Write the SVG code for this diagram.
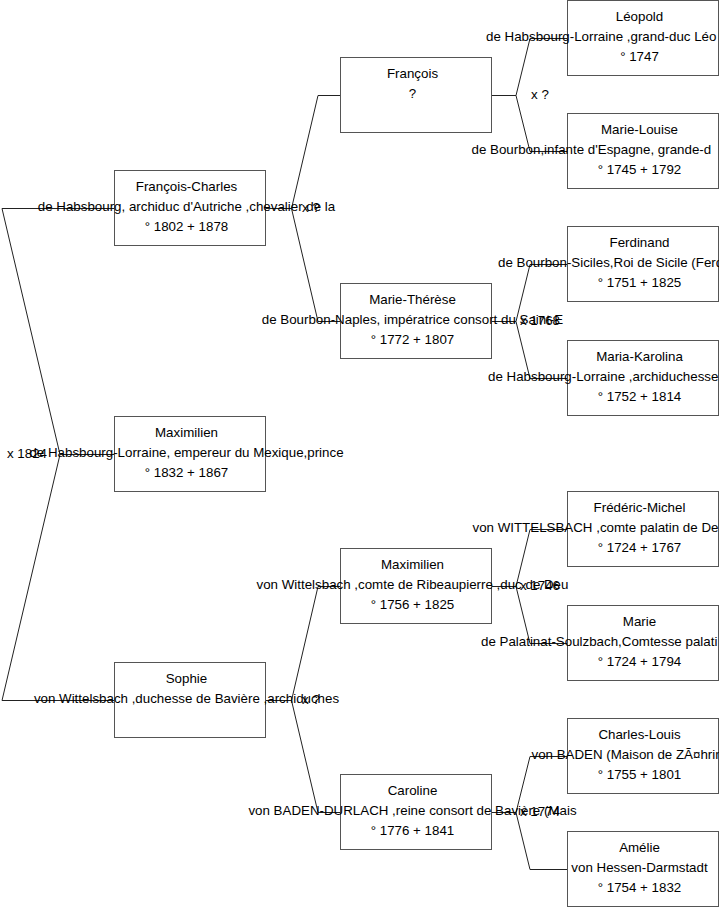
<svg xmlns="http://www.w3.org/2000/svg" width="719" height="908" viewBox="0 0 719 908">
<style>
.bg{fill:#ffffff}
.box{fill:#ffffff;stroke:#555555;stroke-width:1}
.ln{fill:none;stroke:#222222;stroke-width:1}
text{font-family:"Liberation Sans",Arial,sans-serif;font-size:13.33px;fill:#000000}
.c{text-anchor:middle}
.s{text-anchor:start}
</style>
<rect class="bg" x="0" y="0" width="719" height="908"/>
<g id="connectors">
<path class="ln" d="M2,208.5 H114.5 M2,700.5 H114.5 M2,208.5 L60,454.5 L2,700.5 M60,454.5 H114.5"/>
<path class="ln" d="M265.5,208.5 H291.5 L318,95.5 H340.5 M291.5,208.5 L318,321.5 H340.5"/>
<path class="ln" d="M265.5,700.5 H291.5 L318,586.5 H340.5 M291.5,700.5 L318,812.5 H340.5"/>
<path class="ln" d="M491.5,95.5 H516 L530,38.5 H567.5 M516,95.5 L530,151.5 H567.5"/>
<path class="ln" d="M491.5,321.5 H516 L530,264.5 H567.5 M516,321.5 L530,378.5 H567.5"/>
<path class="ln" d="M491.5,586.5 H516 L530,529.5 H567.5 M516,586.5 L530,643.5 H567.5"/>
<path class="ln" d="M491.5,812.5 H516 L530,756.5 H567.5 M516,812.5 L530,869.5 H567.5"/>
</g>
<g id="node-francois-charles">
<rect class="box" x="114.5" y="170.5" width="151" height="75"/>
<text class="c" x="186.5" y="191">François-Charles</text>
<text class="c" x="186.5" y="211">de Habsbourg, archiduc d'Autriche ,chevalier de la</text>
<text class="c" x="186.5" y="231">° 1802 + 1878</text>
</g>
<g id="node-maximilien">
<rect class="box" x="114.5" y="416.5" width="151" height="75"/>
<text class="c" x="186.5" y="437">Maximilien</text>
<text class="c" x="186.5" y="457">de Habsbourg-Lorraine, empereur du Mexique,prince</text>
<text class="c" x="186.5" y="477">° 1832 + 1867</text>
</g>
<g id="node-sophie">
<rect class="box" x="114.5" y="662.5" width="151" height="75"/>
<text class="c" x="186.5" y="683">Sophie</text>
<text class="c" x="186.5" y="703">von Wittelsbach ,duchesse de Bavière ,archiduches</text>
</g>
<g id="node-francois">
<rect class="box" x="340.5" y="57.5" width="151" height="75"/>
<text class="c" x="412.5" y="78">François</text>
<text class="c" x="412.5" y="98">?</text>
</g>
<g id="node-marie-therese">
<rect class="box" x="340.5" y="283.5" width="151" height="75"/>
<text class="c" x="412.5" y="304">Marie-Thérèse</text>
<text class="c" x="412.5" y="324">de Bourbon-Naples, impératrice consort du Saint-E</text>
<text class="c" x="412.5" y="344">° 1772 + 1807</text>
</g>
<g id="node-maximilien-wittelsbach">
<rect class="box" x="340.5" y="548.5" width="151" height="75"/>
<text class="c" x="412.5" y="569">Maximilien</text>
<text class="c" x="412.5" y="589">von Wittelsbach ,comte de Ribeaupierre ,duc de Deu</text>
<text class="c" x="412.5" y="609">° 1756 + 1825</text>
</g>
<g id="node-caroline">
<rect class="box" x="340.5" y="774.5" width="151" height="75"/>
<text class="c" x="412.5" y="795">Caroline</text>
<text class="c" x="412.5" y="815">von BADEN-DURLACH ,reine consort de Bavière (Mais</text>
<text class="c" x="412.5" y="835">° 1776 + 1841</text>
</g>
<g id="node-leopold">
<rect class="box" x="567.5" y="0.5" width="151" height="75"/>
<text class="c" x="639.5" y="21">Léopold</text>
<text class="s" x="486" y="41">de Habsbourg-Lorraine ,grand-duc Léo</text>
<text class="c" x="639.5" y="61">° 1747</text>
</g>
<g id="node-marie-louise">
<rect class="box" x="567.5" y="113.5" width="151" height="75"/>
<text class="c" x="639.5" y="134">Marie-Louise</text>
<text class="s" x="471.5" y="154">de Bourbon,infante d'Espagne, grande-d</text>
<text class="c" x="639.5" y="174">° 1745 + 1792</text>
</g>
<g id="node-ferdinand">
<rect class="box" x="567.5" y="226.5" width="151" height="75"/>
<text class="c" x="639.5" y="247">Ferdinand</text>
<text class="s" x="498" y="267">de Bourbon-Siciles,Roi de Sicile (Ferd</text>
<text class="c" x="639.5" y="287">° 1751 + 1825</text>
</g>
<g id="node-maria-karolina">
<rect class="box" x="567.5" y="340.5" width="151" height="75"/>
<text class="c" x="639.5" y="361">Maria-Karolina</text>
<text class="s" x="488" y="381">de Habsbourg-Lorraine ,archiduchesse</text>
<text class="c" x="639.5" y="401">° 1752 + 1814</text>
</g>
<g id="node-frederic-michel">
<rect class="box" x="567.5" y="491.5" width="151" height="75"/>
<text class="c" x="639.5" y="512">Frédéric-Michel</text>
<text class="s" x="472.5" y="532">von WITTELSBACH ,comte palatin de De</text>
<text class="c" x="639.5" y="552">° 1724 + 1767</text>
</g>
<g id="node-marie">
<rect class="box" x="567.5" y="605.5" width="151" height="75"/>
<text class="c" x="639.5" y="626">Marie</text>
<text class="s" x="481" y="646">de Palatinat-Soulzbach,Comtesse palati</text>
<text class="c" x="639.5" y="666">° 1724 + 1794</text>
</g>
<g id="node-charles-louis">
<rect class="box" x="567.5" y="718.5" width="151" height="75"/>
<text class="c" x="639.5" y="739">Charles-Louis</text>
<text class="s" x="531.5" y="759">von BADEN (Maison de ZÃ¤hrin</text>
<text class="c" x="639.5" y="779">° 1755 + 1801</text>
</g>
<g id="node-amelie">
<rect class="box" x="567.5" y="831.5" width="151" height="75"/>
<text class="c" x="639.5" y="852">Amélie</text>
<text class="c" x="639.5" y="872">von Hessen-Darmstadt</text>
<text class="c" x="639.5" y="892">° 1754 + 1832</text>
</g>
<g id="marriage-labels">
<text class="s" x="7" y="458">x 1824</text>
<text class="c" x="311" y="211.5">x ?</text>
<text class="c" x="311" y="703.5">x ?</text>
<text class="c" x="540" y="98.5">x ?</text>
<text class="c" x="540" y="324.5">x 1768</text>
<text class="c" x="540" y="589.5">x 1746</text>
<text class="c" x="540" y="815.5">x 1774</text>
</g>
</svg>
